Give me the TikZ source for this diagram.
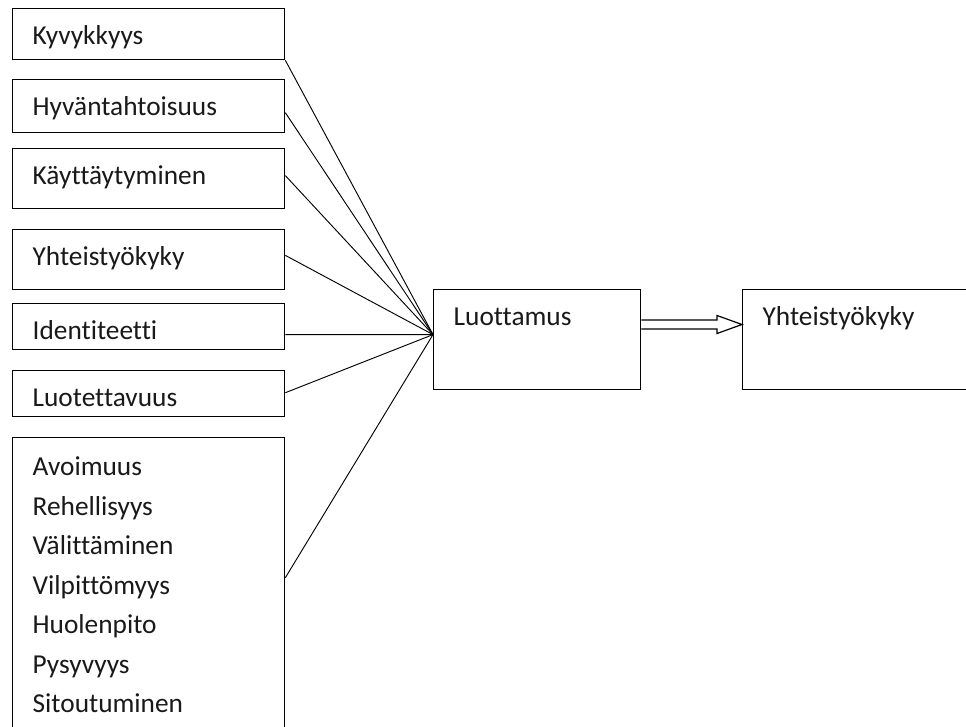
\documentclass[tikz,border=0pt]{standalone}
\usepackage{fontspec}
\setmainfont{Carlito}[Ligatures=NoCommon]
\usetikzlibrary{calc}

\begin{document}
\begin{tikzpicture}[
  x=0.75pt, y=-0.75pt,
  every node/.style={font=\fontsize{20.5}{29.6}\selectfont, align=left, text=black!90},
  box/.style={draw, line width=1pt, anchor=north west, inner xsep=15pt, inner ysep=0pt, text width=174pt, text height=27pt},
  link/.style={line width=0.7pt},
  outline/.style={line width=0.9pt, line join=miter}
]
\useasboundingbox (0,0) rectangle (966,727);

% FACTORS
\node[box, text depth=11.25pt] (kyvykkyys) at (12,8) {Kyvykkyys};
\node[box, text depth=12.75pt] (hyvantahto) at (12,79) {Hyväntahtoisuus};
\node[box, text depth=18pt] (kayttaytym) at (12,148) {Käyttäytyminen};
\node[box, text depth=18pt] (yhteistyo_a) at (12,229) {Yhteistyökyky};
\node[box, text depth=7.5pt] (identiteet) at (12,303) {Identiteetti};
\node[box, text depth=7.5pt] (luotettav) at (12,370) {Luotettavuus};
\node[box, text height=28.5pt, text depth=196.5pt] (arvot) at (12,437) {%
  Avoimuus\\
  Rehellisyys\\
  Välittäminen\\
  Vilpittömyys\\
  Huolenpito\\
  Pysyvyys\\
  Sitoutuminen
};

% TRUST AND OUTCOME
\node[box, text width=125.25pt, text depth=48pt] (luottamus) at (433,289) {Luottamus};
\node[box, text width=150pt, text depth=48pt] (yhteistyo_b) at (742,289) {Yhteistyökyky};

\coordinate (hub) at ($(luottamus.north west)!0.45!(luottamus.south west)$);

\draw[link] (kyvykkyys.south east) -- (hub);
\draw[link] ($(hyvantahto.north east)!0.62!(hyvantahto.south east)$) -- (hub);
\draw[link] ($(kayttaytym.north east)!0.45!(kayttaytym.south east)$) -- (hub);
\draw[link] ($(yhteistyo_a.north east)!0.43!(yhteistyo_a.south east)$) -- (hub);
\draw[link] ($(identiteet.north east)!0.67!(identiteet.south east)$) -- (hub);
\draw[link] ($(luotettav.north east)!0.48!(luotettav.south east)$) -- (hub);
\draw[link] ($(arvot.north east)!0.467!(arvot.south east)$) -- (hub);

% OUTLINE ARROW
\coordinate (arr_s) at ($(luottamus.north east)+(0,35.5)$);
\coordinate (arr_e) at (yhteistyo_b.west |- arr_s);
\draw[outline] ($(arr_s)+(0,-4.5)$) -- ($(arr_e)+(-25,-4.5)$) -- ($(arr_e)+(-25,-9)$)
  -- (arr_e) -- ($(arr_e)+(-25,9)$) -- ($(arr_e)+(-25,4.5)$) -- ($(arr_s)+(0,4.5)$);

\end{tikzpicture}
\end{document}
